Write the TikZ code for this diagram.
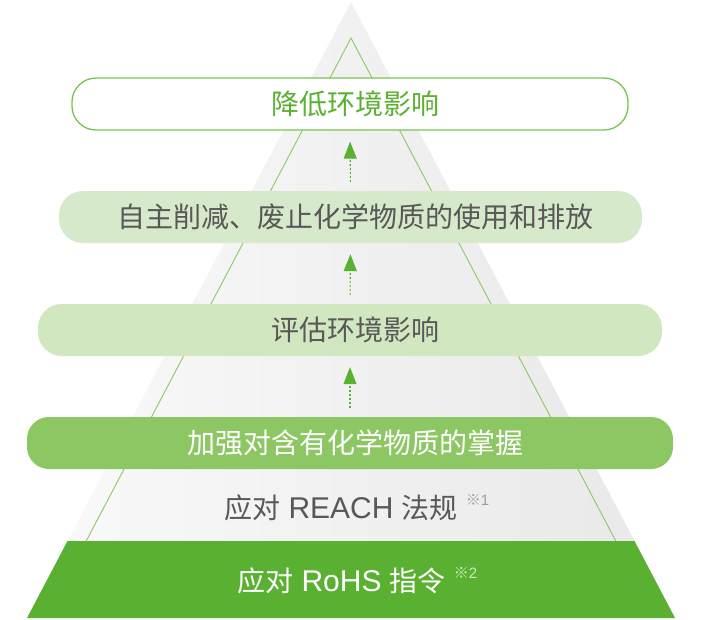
\documentclass[tikz,border=0pt]{standalone}
\usepackage{fontspec}
\setmainfont{Liberation Sans}
\newfontfamily\cjk{Noto Sans CJK SC}
\usetikzlibrary{arrows.meta}
\definecolor{gDark}{HTML}{5AB031}
\definecolor{gMid}{HTML}{8DC764}
\definecolor{gBox2}{HTML}{D6EACB}
\definecolor{gBox3}{HTML}{D0E7BF}
\definecolor{gBorder}{HTML}{7CC24E}
\definecolor{gLine}{HTML}{8CC864}
\definecolor{tGrey}{HTML}{595757}
\definecolor{noteGrey}{HTML}{9A9EA3}
\definecolor{noteGreen}{HTML}{D2EBC2}
\newcommand{\cjkfont}{\cjk\fontsize{28}{32}\selectfont}
\newcommand{\latfont}{\fontsize{30}{32}\selectfont}
\newcommand{\notefont}{\fontsize{15}{15}\selectfont}
\begin{document}
\begin{tikzpicture}[x=1pt,y=-1pt,
  box/.style={rounded corners=24pt, minimum height=52pt, inner sep=0pt, font=\cjkfont},
  arr/.style={gDark, line width=1.1pt, dash pattern=on 2pt off 2pt,
    -{Triangle[width=13pt,length=17pt]}, shorten <=9pt, shorten >=11pt},
  innerline/.style={gLine, line width=0.9pt}]
\useasboundingbox (0,0) rectangle (702,619);
% outer grey triangle
\shade[left color=black!2, right color=black!9] (351,2) -- (675,618) -- (27,618) -- cycle;
% inner green outline
\draw[innerline] (86.2,541) -- (351,38) -- (615.8,541);
% bottom trapezoid
\fill[gDark] (27,618) -- (675,618) -- (634.5,541) -- (67.5,541) -- cycle;
% boxes
\node[box, fill=white, draw=gBorder, line width=1.3pt, minimum width=556pt, text=gDark] (b1) at (350,104) {\hspace*{10pt}降低环境影响};
\node[box, fill=gBox2, minimum width=583pt, text=tGrey] (b2) at (350.5,217) {\hspace*{10pt}自主削减、废止化学物质的使用和排放};
\node[box, fill=gBox3, minimum width=624pt, text=tGrey] (b3) at (350,330) {\hspace*{10pt}评估环境影响};
\node[box, fill=gMid, rounded corners=22pt, minimum width=646pt, text=white] (b4) at (350,443) {\hspace*{10pt}加强对含有化学物质的掌握};
% lower labels
\node[anchor=base west, inner sep=0pt, text=tGrey] (reach) at (224,518)
  {{\cjkfont 应对}\latfont{} REACH {\cjkfont 法规}\hspace{8pt}\raisebox{13pt}{\notefont\color{noteGrey}{\cjk ※}1}};
\node[anchor=base west, inner sep=0pt, text=white] (rohs) at (237,591)
  {{\cjkfont 应对}\latfont{} RoHS {\cjkfont 指令}\hspace{8pt}\raisebox{13pt}{\notefont\color{noteGreen}{\cjk ※}2}};
% arrows
\draw[arr] (b4.north) -- (b3.south);
\draw[arr] (b3.north) -- (b2.south);
\draw[arr] (b2.north) -- (b1.south);
\end{tikzpicture}
\end{document}
